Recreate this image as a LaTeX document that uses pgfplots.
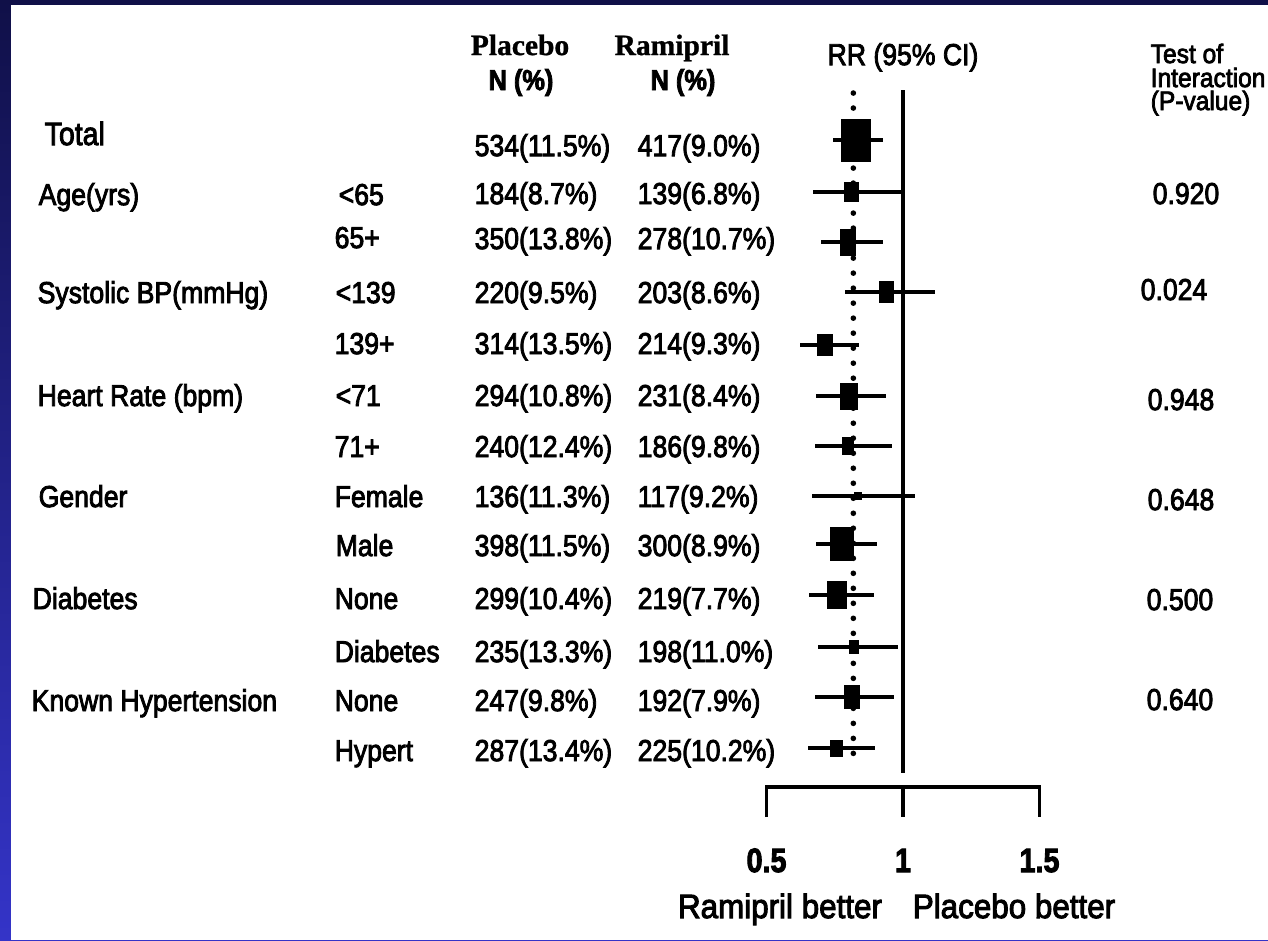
\documentclass[border=0pt]{standalone}
\usepackage{pgfplots}
\pgfplotsset{compat=1.18}
\usepackage{pgfplotstable}
\usepackage{graphicx}
\usepackage{fontspec}
\setmainfont{Liberation Sans}[FakeBold=3]
\newfontfamily\tnr{Liberation Serif}[FakeBold=1]
\definecolor{topblue}{RGB}{16,16,72}
\definecolor{botblue}{RGB}{52,52,200}
\newcommand\T[1]{\scalebox{0.88}[1]{#1}}
\tikzset{
  lbl/.style={anchor=base west, inner sep=0pt, font=\fontsize{8.6}{10}\selectfont},
  ctr/.style={anchor=base, inner sep=0pt, font=\fontsize{8.6}{10}\selectfont},
}

\pgfplotstableread{
y    rr     lo     hi     hw    hh
140  0.828  0.742  0.925  4.27  6.12
192  0.813  0.670  0.996  2.13  2.85
242  0.799  0.700  0.927  2.28  3.84
292  0.938  0.788  1.117  2.13  3.13
345  0.714  0.623  0.839  2.28  3.13
396  0.802  0.681  0.938  2.56  3.84
446  0.799  0.678  0.960  1.71  2.56
496  0.835  0.667  1.044  1.14  1.14
544  0.777  0.681  0.905  3.41  4.84
595  0.758  0.656  0.894  2.85  3.98
647  0.821  0.689  0.982  1.42  1.99
697  0.813  0.678  0.967  2.28  3.41
748  0.758  0.652  0.897  1.85  2.42
}\forest

\pgfdeclareplotmark{rrbox}{%
  \pgfpathrectanglecorners{\pgfpoint{-\mw pt}{-\mh pt}}{\pgfpoint{\mw pt}{\mh pt}}%
  \pgfusepathqfill}

\begin{document}
\begin{tikzpicture}
\shade[top color=topblue, bottom color=botblue] (0,0) rectangle (12.68cm,9.4cm);
\fill[white] (1.1mm,0) rectangle (12.68cm,9.35cm);
\begin{axis}[
  at={(0,0)}, anchor=south west,
  scale only axis, width=12.68cm, height=9.4cm,
  xmin=-2.30769, xmax=2.33700, ymin=0, ymax=940,
  y dir=reverse, hide axis, clip=false,
]
% reference lines
\addplot[black, line width=1.6pt, line cap=round, dash pattern=on 0pt off 4.27pt] coordinates {(0.818,93) (0.818,766)};
\addplot[black, line width=1pt] coordinates {(1,90) (1,773)};
% bracket scale
\addplot[black, line width=1pt] coordinates {(0.5,817) (0.5,787) (1.5,787) (1.5,817)};
\addplot[black, line width=1pt] coordinates {(1,787) (1,817)};
% CIs and boxes
\addplot[black, only marks, mark=rrbox,
  visualization depends on=\thisrow{hw}\as\mw,
  visualization depends on=\thisrow{hh}\as\mh,
  error bars/.cd, x dir=both, x explicit,
  error mark=none, error bar style={line width=1pt, black}]
  table[x=rr, y=y, x error plus expr=\thisrow{hi}-\thisrow{rr}, x error minus expr=\thisrow{rr}-\thisrow{lo}] {\forest};

% headers
\node[anchor=base, inner sep=0pt, font=\tnr\bfseries\fontsize{8.4}{10}\selectfont] at (axis cs:{(520-630)/273},55) {Placebo};
\node[anchor=base, inner sep=0pt, font=\tnr\bfseries\fontsize{8.4}{10}\selectfont] at (axis cs:{(672-630)/273},55) {Ramipril};
\node[ctr, font=\bfseries\fontsize{8.2}{10}\selectfont] at (axis cs:{(521-630)/273},90) {\T{N (\%)}};
\node[ctr, font=\bfseries\fontsize{8.2}{10}\selectfont] at (axis cs:{(683-630)/273},90) {\T{N (\%)}};
\node[ctr] at (axis cs:{(903-630)/273},65) {\T{RR (95\% CI)}};
\node[lbl, font=\fontsize{7.6}{9}\selectfont] at (axis cs:{(1150-630)/273},63) {\scalebox{0.92}[1]{Test of}};
\node[lbl, font=\fontsize{7.6}{9}\selectfont] at (axis cs:{(1150-630)/273},87) {\scalebox{0.92}[1]{Interaction}};
\node[lbl, font=\fontsize{7.6}{9}\selectfont] at (axis cs:{(1150-630)/273},110) {\scalebox{0.92}[1]{(P-value)}};

% column 1
\node[lbl, font=\fontsize{9.2}{10}\selectfont] at (axis cs:{(44-630)/273},145) {\T{Total}};
\node[lbl] at (axis cs:{(38-630)/273},205) {\T{Age(yrs)}};
\node[lbl] at (axis cs:{(37-630)/273},303) {\T{Systolic BP(mmHg)}};
\node[lbl] at (axis cs:{(37-630)/273},406) {\T{Heart Rate (bpm)}};
\node[lbl] at (axis cs:{(38-630)/273},507) {\T{Gender}};
\node[lbl] at (axis cs:{(32-630)/273},609) {\T{Diabetes}};
\node[lbl] at (axis cs:{(31-630)/273},711) {\T{Known Hypertension}};

% column 2
\node[lbl] at (axis cs:{(338-630)/273},205) {\T{<65}};
\node[lbl] at (axis cs:{(334-630)/273},248) {\T{65+}};
\node[lbl] at (axis cs:{(335-630)/273},303) {\T{<139}};
\node[lbl] at (axis cs:{(334-630)/273},354) {\T{139+}};
\node[lbl] at (axis cs:{(335-630)/273},406) {\T{<71}};
\node[lbl] at (axis cs:{(334-630)/273},457) {\T{71+}};
\node[lbl] at (axis cs:{(334-630)/273},507) {\T{Female}};
\node[lbl] at (axis cs:{(335-630)/273},556) {\T{Male}};
\node[lbl] at (axis cs:{(334-630)/273},609) {\T{None}};
\node[lbl] at (axis cs:{(334-630)/273},662) {\T{Diabetes}};
\node[lbl] at (axis cs:{(334-630)/273},711) {\T{None}};
\node[lbl] at (axis cs:{(334-630)/273},761) {\T{Hypert}};

% placebo column
\node[lbl] at (axis cs:{(474-630)/273},156) {\T{534(11.5\%)}};
\node[lbl] at (axis cs:{(474-630)/273},204) {\T{184(8.7\%)}};
\node[lbl] at (axis cs:{(474-630)/273},249) {\T{350(13.8\%)}};
\node[lbl] at (axis cs:{(474-630)/273},303) {\T{220(9.5\%)}};
\node[lbl] at (axis cs:{(474-630)/273},354) {\T{314(13.5\%)}};
\node[lbl] at (axis cs:{(474-630)/273},406) {\T{294(10.8\%)}};
\node[lbl] at (axis cs:{(474-630)/273},457) {\T{240(12.4\%)}};
\node[lbl] at (axis cs:{(474-630)/273},507) {\T{136(11.3\%)}};
\node[lbl] at (axis cs:{(474-630)/273},556) {\T{398(11.5\%)}};
\node[lbl] at (axis cs:{(474-630)/273},609) {\T{299(10.4\%)}};
\node[lbl] at (axis cs:{(474-630)/273},662) {\T{235(13.3\%)}};
\node[lbl] at (axis cs:{(474-630)/273},711) {\T{247(9.8\%)}};
\node[lbl] at (axis cs:{(474-630)/273},761) {\T{287(13.4\%)}};

% ramipril column
\node[lbl] at (axis cs:{(637-630)/273},156) {\T{417(9.0\%)}};
\node[lbl] at (axis cs:{(637-630)/273},204) {\T{139(6.8\%)}};
\node[lbl] at (axis cs:{(637-630)/273},249) {\T{278(10.7\%)}};
\node[lbl] at (axis cs:{(637-630)/273},303) {\T{203(8.6\%)}};
\node[lbl] at (axis cs:{(637-630)/273},354) {\T{214(9.3\%)}};
\node[lbl] at (axis cs:{(637-630)/273},406) {\T{231(8.4\%)}};
\node[lbl] at (axis cs:{(637-630)/273},457) {\T{186(9.8\%)}};
\node[lbl] at (axis cs:{(637-630)/273},507) {\T{117(9.2\%)}};
\node[lbl] at (axis cs:{(637-630)/273},556) {\T{300(8.9\%)}};
\node[lbl] at (axis cs:{(637-630)/273},609) {\T{219(7.7\%)}};
\node[lbl] at (axis cs:{(637-630)/273},662) {\T{198(11.0\%)}};
\node[lbl] at (axis cs:{(637-630)/273},711) {\T{192(7.9\%)}};
\node[lbl] at (axis cs:{(637-630)/273},761) {\T{225(10.2\%)}};

% p-values
\node[lbl] at (axis cs:{(1152-630)/273},204) {\T{0.920}};
\node[lbl] at (axis cs:{(1140-630)/273},300) {\T{0.024}};
\node[lbl] at (axis cs:{(1147-630)/273},410) {\T{0.948}};
\node[lbl] at (axis cs:{(1147-630)/273},510) {\T{0.648}};
\node[lbl] at (axis cs:{(1146-630)/273},610) {\T{0.500}};
\node[lbl] at (axis cs:{(1146-630)/273},710) {\T{0.640}};

% scale labels
\node[ctr, font=\bfseries\fontsize{9.6}{11}\selectfont] at (axis cs:0.5,872) {\scalebox{0.85}[1]{0.5}};
\node[ctr, font=\bfseries\fontsize{9.6}{11}\selectfont] at (axis cs:1,872) {\scalebox{0.85}[1]{1}};
\node[ctr, font=\bfseries\fontsize{9.6}{11}\selectfont] at (axis cs:1.5,872) {\scalebox{0.85}[1]{1.5}};
\node[ctr, font=\fontsize{9.6}{11}\selectfont] at (axis cs:{(780-630)/273},918) {\scalebox{0.93}[1]{Ramipril better}};
\node[ctr, font=\fontsize{9.6}{11}\selectfont] at (axis cs:{(1014-630)/273},918) {\scalebox{0.93}[1]{Placebo better}};
\end{axis}
\pgfresetboundingbox
\path[use as bounding box] (0,0) rectangle (12.68cm,9.4cm);
\end{tikzpicture}
\end{document}
